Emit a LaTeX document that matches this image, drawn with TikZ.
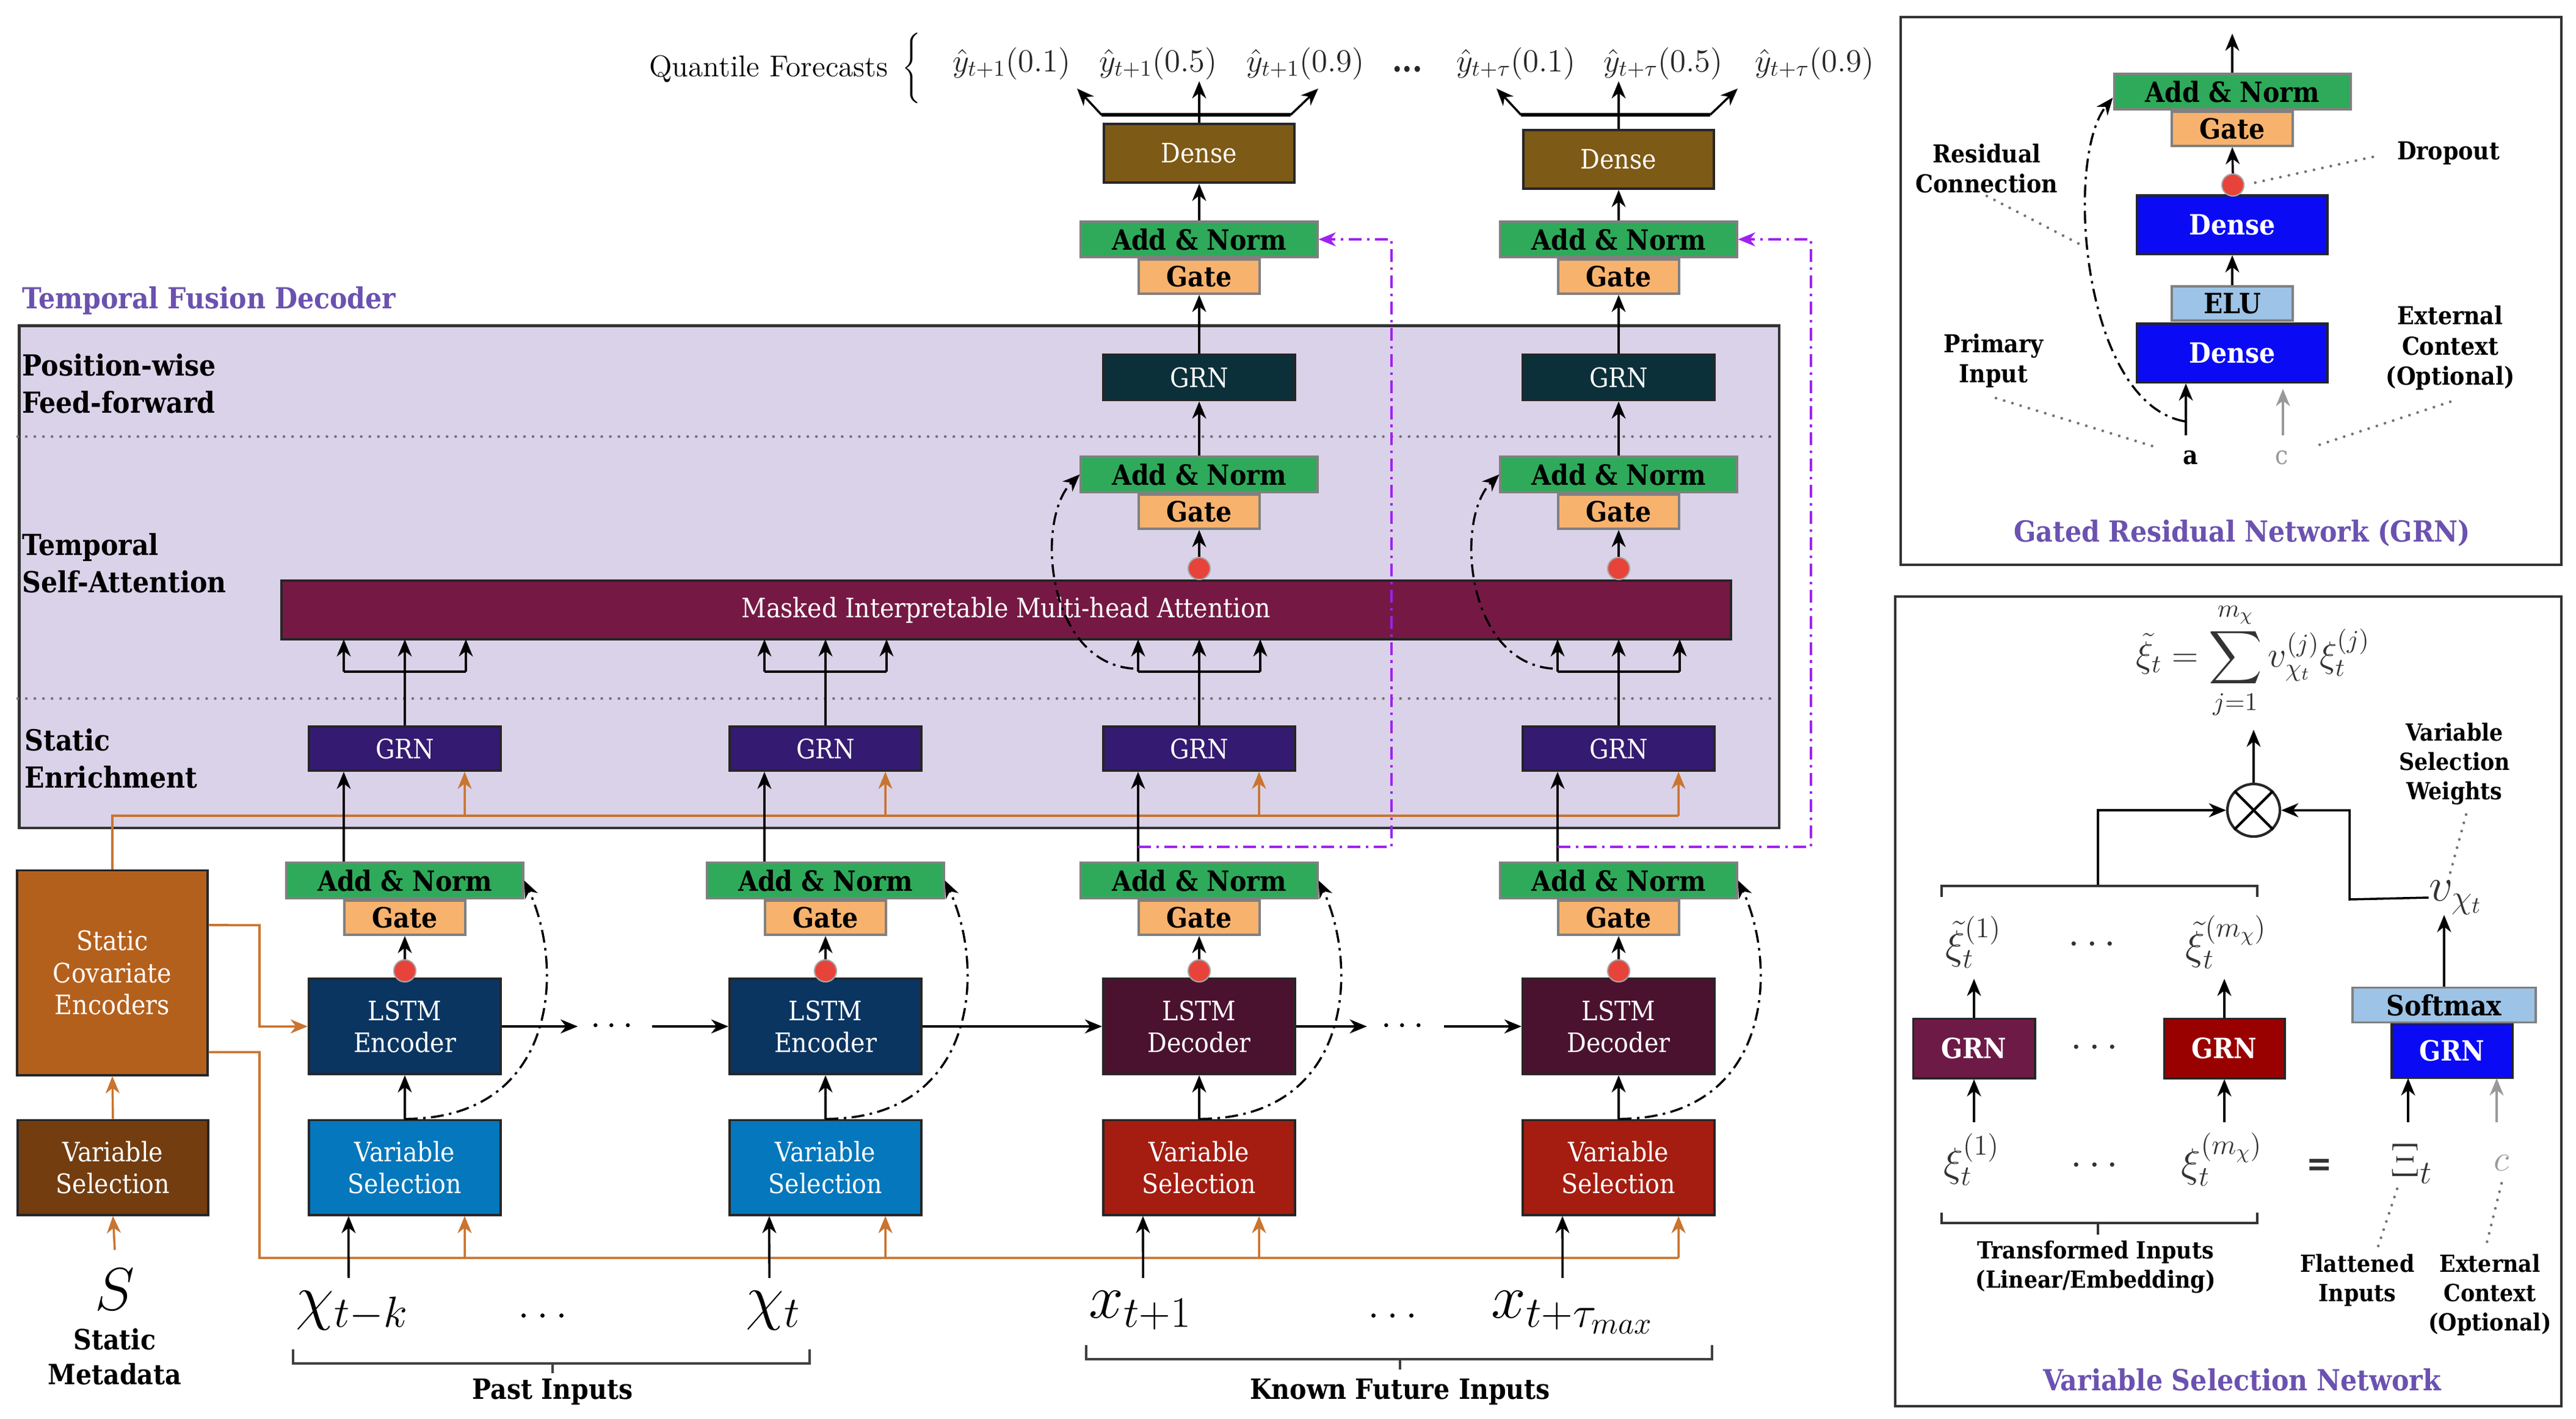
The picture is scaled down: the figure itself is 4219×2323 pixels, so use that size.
\RequirePackage{fix-cm}
\documentclass[tikz,border=0pt]{standalone}
\usepackage{fontspec}
\usepackage{amsmath}
\usetikzlibrary{arrows.meta,calc}
\newfontfamily\dv{DejaVu Serif Condensed}
\definecolor{denseC}{HTML}{7D5A16}
\definecolor{anC}{HTML}{2EAA5A}
\definecolor{gateC}{HTML}{F7B26E}
\definecolor{grnff}{HTML}{0B3039}
\definecolor{grnse}{HTML}{341A70}
\definecolor{attn}{HTML}{751944}
\definecolor{lstmE}{HTML}{0A3561}
\definecolor{lstmD}{HTML}{4B1230}
\definecolor{vsP}{HTML}{0577BC}
\definecolor{vsF}{HTML}{A51C10}
\definecolor{sceC}{HTML}{B4601D}
\definecolor{svsC}{HTML}{733D10}
\definecolor{tfd}{HTML}{DAD2E8}
\definecolor{orng}{HTML}{C9742F}
\definecolor{purp}{HTML}{A020F0}
\definecolor{ttl}{HTML}{6B52B0}
\definecolor{dblue}{HTML}{0A0AF5}
\definecolor{eluC}{HTML}{9DC3E6}
\definecolor{rdot}{HTML}{E8433A}
\definecolor{grnL}{HTML}{6E1A47}
\definecolor{grnR}{HTML}{990000}
\tikzset{
  blk/.style={draw=black!85, line width=1.1pt, text=white, align=center, inner sep=0pt,
    font=\dv\fontsize{12.5}{14.8}\selectfont, minimum width=3.14cm},
  an/.style={draw=black!50, line width=1.1pt, fill=anC, inner sep=0pt, minimum width=3.87cm,
    minimum height=0.58cm, font=\dv\bfseries\fontsize{13}{15}\selectfont},
  gt/.style={an, fill=gateC, minimum width=1.98cm, minimum height=0.56cm},
  rd/.style={circle, fill=rdot, draw=black!35, line width=0.6pt, minimum size=0.36cm, inner sep=0pt},
  arr/.style={line width=1pt, -{Stealth[length=8pt,width=6.5pt,inset=2.5pt]}},
  oarr/.style={arr, draw=orng},
  ol/.style={line width=1pt, draw=orng},
  dd/.style={dash pattern=on 6pt off 2.5pt on 1.2pt off 2.5pt},
  pd/.style={draw=purp, line width=1.1pt, dash pattern=on 6pt off 2.5pt on 1.2pt off 2.5pt},
  dotg/.style={draw=black!55, line width=1.3pt, dash pattern=on 0pt off 4pt, line cap=round},
  lbl/.style={align=center, inner sep=0pt, font=\dv\bfseries\fontsize{11.5}{14}\selectfont},
  sec/.style={align=left, inner sep=0pt, anchor=west, font=\dv\bfseries\fontsize{13.5}{17.4}\selectfont},
  ttlS/.style={text=ttl, inner sep=0pt, font=\dv\bfseries\fontsize{13.5}{16}\selectfont},
  ql/.style={anchor=base, inner sep=0pt, text=black!85, font=\fontsize{15}{18}\selectfont},
  inl/.style={anchor=base west, inner sep=0pt, font=\fontsize{29}{31}\selectfont},
  ml/.style={inner sep=0pt, text=black!80, font=\fontsize{19}{22}\selectfont},
}
\begin{document}
\begin{tikzpicture}[x=0.01cm,y=-0.01cm]
\useasboundingbox (0,0) rectangle (4219,2323);

% ---------------- Temporal Fusion Decoder box ----------------
\node[ttlS, anchor=base west] (tfdlbl) at (36,505) {Temporal Fusion Decoder};
\node[draw=black!80, line width=1.3pt, fill=tfd, minimum width=28.81cm, minimum height=8.22cm,
  anchor=north west, inner sep=0pt] (tfd) at (29,531) {};
\draw[dotg] (29,715) -- (2910,715);
\draw[dotg] (29,1144) -- (2910,1144);
\node[sec] (pw) at (36,628) {Position-wise\\Feed-forward};
\node[sec] (tsa) at (36,922) {Temporal\\Self-Attention};
\node[sec] (se) at (40,1242) {Static\\Enrichment};

% orange lines (static context)
\node[blk, fill=sceC, minimum width=3.11cm, minimum height=3.35cm] (sce) at (184,1593) {Static\\Covariate\\Encoders};
\node[blk, fill=svsC, minimum width=3.12cm, minimum height=1.55cm] (svs) at (185,1912) {Variable\\Selection};
\draw[ol] (sce.north) -- (184,1336) -- (2749,1336);
\draw[ol] ([yshift=-1.3cm]sce.east) -- (425,1723) -- (425,2060) -- (2749,2060);

\node[draw=black!85, line width=1.1pt, fill=attn, minimum width=23.72cm, minimum height=0.96cm,
  text=white, inner sep=0pt, font=\dv\fontsize{12.5}{14.8}\selectfont] (attn) at (1648,999)
  {Masked Interpretable Multi-head Attention};

% ---------------- columns ----------------
\foreach \i/\cc/\lcol/\ltxt/\vcol in {1/663/lstmE/Encoder/vsP,2/1352/lstmE/Encoder/vsP,3/1964/lstmD/Decoder/vsF,4/2651/lstmD/Decoder/vsF}{
  \node[blk, fill=\vcol, minimum height=1.55cm] (vs\i) at (\cc,1912) {Variable\\Selection};
  \node[blk, fill=\lcol, minimum height=1.56cm] (lstm\i) at (\cc,1681) {LSTM\\\ltxt};
  \node[an] (anL\i) at (\cc,1442) {Add \& Norm};
  \node[gt, anchor=north] (gateL\i) at (anL\i.south) {Gate};
  \node[rd] (dotL\i) at (\cc,1590) {};
  \node[blk, fill=grnse, minimum height=0.72cm] (grnse\i) at (\cc,1226) {GRN};
  \draw[arr] (vs\i.north) -- (lstm\i.south);
  \draw[arr] (dotL\i.north) -- (gateL\i.south);
  \draw[arr] ([xshift=-1cm]anL\i.north) -- ([xshift=-1cm]grnse\i.south);
  \draw[oarr] (\cc+98,1336) -- ([xshift=0.98cm]grnse\i.south);
  \draw[oarr] (\cc+98,2060) -- ([xshift=0.98cm]vs\i.south);
  \draw[arr] (\cc-92,2093) -- ([xshift=-0.92cm]vs\i.south);
  \draw[line width=1pt] (grnse\i.north) -- (\cc,1100);
  \draw[line width=1pt] (\cc-100,1100) -- (\cc+100,1100);
  \foreach \d in {-100,0,100}{\draw[arr] (\cc+\d,1100) -- (\cc+\d,1047);}
  \draw[arr, dd] (vs\i.north) .. controls +(250,0) and +(67,143) .. (anL\i.east);
}
\draw[oarr] ([yshift=0.78cm]sce.east) -- (425,1515) -- (425,1681) -- (lstm1.west);
\draw[oarr] (svs.north) -- (sce.south);

% LSTM chain
\node[minimum width=1.2cm, inner sep=0pt, font=\fontsize{17}{17}\selectfont] (ld1) at (1007,1681) {$\cdots$};
\node[minimum width=1.25cm, inner sep=0pt, font=\fontsize{17}{17}\selectfont] (ld2) at (2302,1681) {$\cdots$};
\draw[arr] (lstm1.east) -- (ld1.west);
\draw[arr] (ld1.east) -- (lstm2.west);
\draw[arr] (lstm2.east) -- (lstm3.west);
\draw[arr] (lstm3.east) -- (ld2.west);
\draw[arr] (ld2.east) -- (lstm4.west);

% decoder-only upper parts
\foreach \i/\cc/\dy in {3/1964/251,4/2651/261}{
  \node[an] (anM\i) at (\cc,777) {Add \& Norm};
  \node[gt, anchor=north] (gateM\i) at (anM\i.south) {Gate};
  \node[rd] (dotM\i) at (\cc,931) {};
  \node[blk, fill=grnff, minimum height=0.75cm] (grnff\i) at (\cc,618) {GRN};
  \node[an] (anT\i) at (\cc,392) {Add \& Norm};
  \node[gt, anchor=north] (gateT\i) at (anT\i.south) {Gate};
  \node[blk, fill=denseC, minimum width=3.12cm, minimum height=0.96cm] (dense\i) at (\cc,\dy) {Dense};
  \draw[arr] (dotM\i.north) -- (gateM\i.south);
  \draw[arr] (anM\i.north) -- (grnff\i.south);
  \draw[arr] (grnff\i.north) -- (gateT\i.south);
  \draw[arr] (anT\i.north) -- (dense\i.south);
  \draw[arr] (dense\i.north) -- (\cc,133);
  \draw[line width=1.8pt] (\cc-160,188) -- (\cc+150,188);
  \draw[arr] (\cc-160,188) -- (\cc-200,145);
  \draw[arr] (\cc+150,188) -- (\cc+195,145);
  \draw[arr, dd] (\cc-108,1095) .. controls (\cc-250,1085) and (\cc-270,850) .. (anM\i.west);
  \draw[pd, -{Stealth[length=8pt,width=6.5pt,inset=2.5pt]}] (\cc-100,1387) -- (\cc+315,1387) -- (\cc+315,392) -- (anT\i.east);
}

% quantile forecasts
\node[anchor=base east, inner sep=0pt, font=\fontsize{14}{16}\selectfont] (qf) at (1455,125) {Quantile Forecasts};
\node[inner sep=0pt, font=\fontsize{10.5}{12}\selectfont] (brc) at (1493,112) {$\Bigg\{$};
\node[ql] (q1) at (1657,117) {$\hat{y}_{t+1}(0.1)$};
\node[ql] (q2) at (1897,117) {$\hat{y}_{t+1}(0.5)$};
\node[ql] (q3) at (2138,117) {$\hat{y}_{t+1}(0.9)$};
\node[ql, font=\dv\bfseries\fontsize{15}{18}\selectfont] (qd) at (2305,117) {...};
\node[ql] (q4) at (2483,117) {$\hat{y}_{t+\tau}(0.1)$};
\node[ql] (q5) at (2724,117) {$\hat{y}_{t+\tau}(0.5)$};
\node[ql] (q6) at (2972,117) {$\hat{y}_{t+\tau}(0.9)$};

% inputs
\node[inner sep=0pt, anchor=base, font=\fontsize{28}{30}\selectfont] (s) at (188,2145) {$S$};
\draw[oarr] ([yshift=0.3cm]s.north) -- (svs.south);
\node[lbl, font=\dv\bfseries\fontsize{13}{16}\selectfont] (smeta) at (188,2222) {Static\\Metadata};
\node[inl] (x1) at (484,2158) {$\chi_{t-k}$};
\node[inl] (x2) at (1221,2158) {$\chi_{t}$};
\node[inl] (x3) at (1783,2158) {$x_{t+1}$};
\node[inl] (x4) at (2442,2158) {$x_{t+\tau_{max}}$};
\node[anchor=base, inner sep=0pt, font=\fontsize{20}{22}\selectfont] (xd1) at (895,2158) {$\dots$};
\node[anchor=base, inner sep=0pt, font=\fontsize{20}{22}\selectfont] (xd2) at (2287,2158) {$\dots$};
\draw[line width=1.3pt, draw=black!75] (480,2210) -- (480,2233) -- (1326,2233) -- (1326,2210);
\draw[line width=1.3pt, draw=black!75] (905,2233) -- (905,2249);
\node[lbl, font=\dv\bfseries\fontsize{13}{16}\selectfont] (pin) at (905,2280) {Past Inputs};
\draw[line width=1.3pt, draw=black!75] (1779,2203) -- (1779,2226) -- (2804,2226) -- (2804,2203);
\draw[line width=1.3pt, draw=black!75] (2293,2226) -- (2293,2243);
\node[lbl, font=\dv\bfseries\fontsize{13}{16}\selectfont] (kfi) at (2293,2280) {Known Future Inputs};

% ---------------- GRN inset ----------------
\draw[line width=1.3pt, draw=black!80] (3113,28) rectangle (4195,925);
\node[an] (gan) at (3656,150) {Add \& Norm};
\node[gt, anchor=north] (ggate) at (gan.south) {Gate};
\node[blk, fill=dblue, minimum width=3.12cm, minimum height=0.96cm, font=\dv\bfseries\fontsize{13}{15}\selectfont] (gd1) at (3656,368) {Dense};
\node[rd] (gdot) at (3657,303) {};
\node[gt, fill=eluC] (gelu) at (3656,497) {ELU};
\node[blk, fill=dblue, minimum width=3.12cm, minimum height=0.96cm, font=\dv\bfseries\fontsize{13}{15}\selectfont] (gd2) at (3656,578) {Dense};
\coordinate (gout) at (3656,55);
\draw[arr] (gan.north) -- (gout);
\draw[arr] (gdot.north) -- (ggate.south);
\draw[arr] (gelu.north) -- (gd1.south);
\node[lbl, font=\dv\bfseries\fontsize{12}{14}\selectfont] (alab) at (3588,750) {a};
\node[lbl, font=\dv\fontsize{12}{14}\selectfont, text=black!40] (clab) at (3737,750) {c};
\coordinate (ga) at (3580,713);
\coordinate (gc) at (3739,713);
\draw[arr] (ga) -- (ga |- gd2.south);
\draw[arr, draw=black!40] (gc) -- (3739,637);
\draw[arr, dd] (3578,690) .. controls (3410,660) and (3380,260) .. ([yshift=-0.1cm]gan.west);
\draw[dotg] (3254,321) -- (3414,404);
\draw[dotg] (3886,257) -- (3690,300);
\draw[dotg] (3269,652) -- (3530,732);
\draw[dotg] (4013,658) -- (3788,732);
\node[lbl] (rcl) at (3254,276) {Residual\\Connection};
\node[lbl] (dol) at (4010,251) {Dropout};
\node[lbl] (pil) at (3265,591) {Primary\\Input};
\node[lbl] (ecl) at (4013,570) {External\\Context\\(Optional)};
\node[ttlS] (grnt) at (3672,873) {Gated Residual Network (GRN)};

% ---------------- VSN inset ----------------
\draw[line width=1.3pt, draw=black!80] (3104,977) rectangle (4195,2303);
\node[ml, font=\fontsize{17}{20}\selectfont] (form) at (3690,1082) {$\displaystyle \tilde{\xi}_t=\sum_{j=1}^{m_\chi} v_{\chi_t}^{(j)}\xi_t^{(j)}$};
\node[circle, draw=black!85, line width=1.2pt, minimum size=0.86cm, inner sep=0pt] (otimes) at (3691,1327) {};
\draw[line width=1.2pt] (otimes.45) -- (otimes.225);
\draw[line width=1.2pt] (otimes.135) -- (otimes.315);
\draw[arr] (otimes.north) -- (3691,1195);
\node[ml, font=\fontsize{22}{24}\selectfont] (vchi) at (4022,1470) {$v_{\chi_t}$};
\draw[arr] (3436,1451) -- (3436,1327) -- (otimes.west);
\draw[arr] (vchi.west) -- (3848,1473) -- (3848,1327) -- (otimes.east);
\draw[line width=1.3pt, draw=black!80] (3180,1469) -- (3180,1451) -- (3697,1451) -- (3697,1469);
\node[ml] (xt1) at (3232,1543) {$\tilde{\xi}_t^{(1)}$};
\node[ml] (xtd) at (3432,1548) {$\cdots$};
\node[ml] (xtm) at (3646,1543) {$\tilde{\xi}_t^{(m_\chi)}$};
\node[blk, fill=grnL, minimum width=1.99cm, minimum height=0.97cm, font=\dv\bfseries\fontsize{13}{15}\selectfont] (gL) at (3233,1717) {GRN};
\node[blk, fill=grnR, minimum width=1.97cm, minimum height=0.97cm, font=\dv\bfseries\fontsize{13}{15}\selectfont] (gR) at (3643,1717) {GRN};
\node[ml] (gdd) at (3436,1717) {$\cdots$};
\draw[arr] (gL.north) -- (3233,1603);
\draw[arr] (gR.north) -- (3643,1603);
\draw[arr] (3233,1838) -- (gL.south);
\draw[arr] (3643,1838) -- (gR.south);
\node[ml] (x1v) at (3229,1899) {$\xi_t^{(1)}$};
\node[ml] (xdv) at (3436,1910) {$\cdots$};
\node[ml] (xmv) at (3639,1899) {$\xi_t^{(m_\chi)}$};
\node[ml, font=\dv\bfseries\fontsize{16}{19}\selectfont] (eq) at (3799,1912) {=};
\node[ml, font=\fontsize{22}{24}\selectfont] (Xi) at (3950,1906) {$\Xi_t$};
\node[ml, text=black!40, font=\fontsize{17}{20}\selectfont] (cv) at (4097,1905) {$c$};
\node[blk, fill=dblue, minimum width=1.98cm, minimum height=0.89cm, font=\dv\bfseries\fontsize{13}{15}\selectfont] (gB) at (4016,1721) {GRN};
\node[gt, fill=eluC, minimum width=3.0cm, minimum height=0.57cm] (smax) at (4003,1646) {Softmax};
\draw[arr] (smax.north) -- (smax.north |- vchi.south);
\draw[arr] (3944,1838) -- (3944,1766);
\draw[arr, draw=black!40] (4089,1838) -- (4089,1766);
\node[lbl, font=\dv\bfseries\fontsize{11}{13.7}\selectfont] (vsw) at (4020,1251) {Variable\\Selection\\Weights};
\draw[dotg] (4039,1334) -- (4010,1440);
\draw[line width=1.3pt, draw=black!80] (3180,1986) -- (3180,2003) -- (3697,2003) -- (3697,1986);
\draw[line width=1.3pt, draw=black!80] (3436,2003) -- (3436,2022);
\node[lbl, font=\dv\bfseries\fontsize{11}{13.7}\selectfont] (tin) at (3432,2075) {Transformed Inputs\\(Linear/Embedding)};
\node[lbl, font=\dv\bfseries\fontsize{11}{13.7}\selectfont] (fin) at (3861,2097) {Flattened\\Inputs};
\node[lbl, font=\dv\bfseries\fontsize{11}{13.7}\selectfont] (ecv) at (4078,2121) {External\\Context\\(Optional)};
\draw[dotg] (3926,1947) -- (3893,2047);
\draw[dotg] (4097,1938) -- (4071,2043);
\node[ttlS] (vsnt) at (3672,2260) {Variable Selection Network};
\end{tikzpicture}
\end{document}
